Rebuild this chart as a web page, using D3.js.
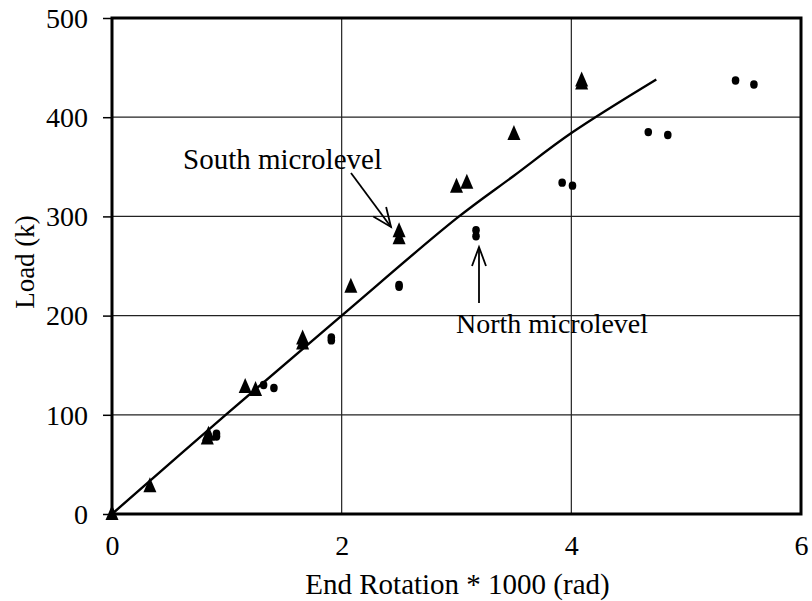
<!DOCTYPE html>
<html>
<head>
<meta charset="utf-8">
<script src="https://cdn.jsdelivr.net/npm/d3@7"></script>
</head>
<body style="margin:0;background:#fff">
<svg id="chart" width="812" height="601" style="display:block"></svg>
<script>
// ---- data ----
const xTicks = [0, 2, 4, 6];
const yTicks = [0, 100, 200, 300, 400, 500];
const southPoints = [
  [0, 0], [0.33, 28], [0.83, 76], [0.84, 80], [1.16, 128], [1.25, 125],
  [1.66, 172], [1.66, 177], [2.08, 229], [2.50, 278], [2.50, 285],
  [3.00, 330], [3.09, 334], [3.50, 383], [4.09, 434], [4.09, 437]
];
const northPoints = [
  [0.91, 78], [0.91, 81], [1.32, 130], [1.41, 127], [1.91, 175], [1.91, 178],
  [2.50, 229], [2.50, 231], [3.17, 280], [3.17, 286], [3.92, 334], [4.01, 331],
  [4.67, 385], [4.84, 382], [5.43, 437], [5.59, 433]
];
const fitLine = [[0, 0], [1, 101], [2, 200], [3, 298], [3.5, 341], [4, 384], [4.74, 438]];
const xLabel = "End Rotation * 1000 (rad)";
const yLabel = "Load (k)";
const southLabel = "South microlevel";
const northLabel = "North microlevel";

// ---- layout ----
const svg = d3.select("#chart");
const L = 112, R = 801, T = 18, B = 514;
const x = d3.scaleLinear().domain([0, 6]).range([L, R]);
const y = d3.scaleLinear().domain([0, 500]).range([B, T]);

function serif(sel, size) {
  return sel.style("font-family", '"Liberation Serif"').style("font-size", size + "px").attr("fill", "#000");
}

// gridlines
svg.append("g").selectAll("line").data(yTicks.filter(d => d > 0 && d < 500)).join("line")
  .attr("x1", L).attr("x2", R).attr("y1", d => y(d)).attr("y2", d => y(d))
  .attr("stroke", "#222").attr("stroke-width", 1.2);
svg.append("g").selectAll("line").data(xTicks.filter(d => d > 0 && d < 6)).join("line")
  .attr("y1", T).attr("y2", B).attr("x1", d => x(d)).attr("x2", d => x(d))
  .attr("stroke", "#222").attr("stroke-width", 1.2);

// frame
svg.append("rect").attr("x", L).attr("y", T).attr("width", R - L).attr("height", B - T)
  .attr("fill", "none").attr("stroke", "#000").attr("stroke-width", 3);

// y axis ticks + labels
const yAxis = d3.axisLeft(y).tickValues(yTicks).tickSize(9).tickPadding(15).tickFormat(d3.format("d"));
const gy = svg.append("g").attr("transform", `translate(${L},0)`).call(yAxis);
gy.select(".domain").remove();
gy.selectAll(".tick line").attr("stroke", "#000").attr("stroke-width", 1.5);
serif(gy.selectAll(".tick text"), 28).attr("dy", "0.33em").attr("text-anchor", "end");

// x axis labels
const xAxis = d3.axisBottom(x).tickValues(xTicks).tickSize(0).tickPadding(0).tickFormat(d3.format("d"));
const gx = svg.append("g").attr("transform", `translate(0,${B})`).call(xAxis);
gx.select(".domain").remove();
serif(gx.selectAll(".tick text"), 28).attr("y", 41).attr("dy", null).attr("text-anchor", "middle");

// axis titles
serif(svg.append("text"), 29).attr("text-anchor", "middle")
  .attr("x", (L + R) / 2 + 1).attr("y", 594).text(xLabel);
serif(svg.append("text"), 27).attr("text-anchor", "middle")
  .attr("transform", "translate(34,262) rotate(-90)").text(yLabel);

// fit line
svg.append("path").datum(fitLine)
  .attr("d", d3.line().x(d => x(d[0])).y(d => y(d[1])).curve(d3.curveCatmullRom.alpha(0.5)))
  .attr("fill", "none").attr("stroke", "#000").attr("stroke-width", 2.4);

// markers
const TW = 13, TH = 15;
svg.append("g").selectAll("path").data(southPoints).join("path")
  .attr("d", `M0,${-TH * 0.6}L${TW / 2},${TH * 0.4}L${-TW / 2},${TH * 0.4}Z`)
  .attr("transform", d => `translate(${x(d[0])},${y(d[1])})`).attr("fill", "#000");
svg.append("g").selectAll("ellipse").data(northPoints).join("ellipse")
  .attr("cx", d => x(d[0])).attr("cy", d => y(d[1])).attr("rx", 3.8).attr("ry", 4.2).attr("fill", "#000");

// annotations
serif(svg.append("text"), 29).attr("x", 183).attr("y", 169).text(southLabel);
serif(svg.append("text"), 28).attr("x", 456).attr("y", 333).text(northLabel);

function arrow(x1, y1, x2, y2, h, w) {
  const a = Math.atan2(y2 - y1, x2 - x1);
  const bx = x2 - h * Math.cos(a), by = y2 - h * Math.sin(a);
  const px = -Math.sin(a) * w, py = Math.cos(a) * w;
  const g = svg.append("g").attr("stroke", "#000").attr("stroke-width", 1.8).attr("fill", "none");
  g.append("line").attr("x1", x1).attr("y1", y1).attr("x2", x2).attr("y2", y2);
  g.append("path").attr("d", `M${bx + px},${by + py}L${x2},${y2}L${bx - px},${by - py}`);
}
arrow(351, 173, 391, 227, 19, 8);
arrow(479, 303, 479, 247, 19, 7);
</script>
</body>
</html>
